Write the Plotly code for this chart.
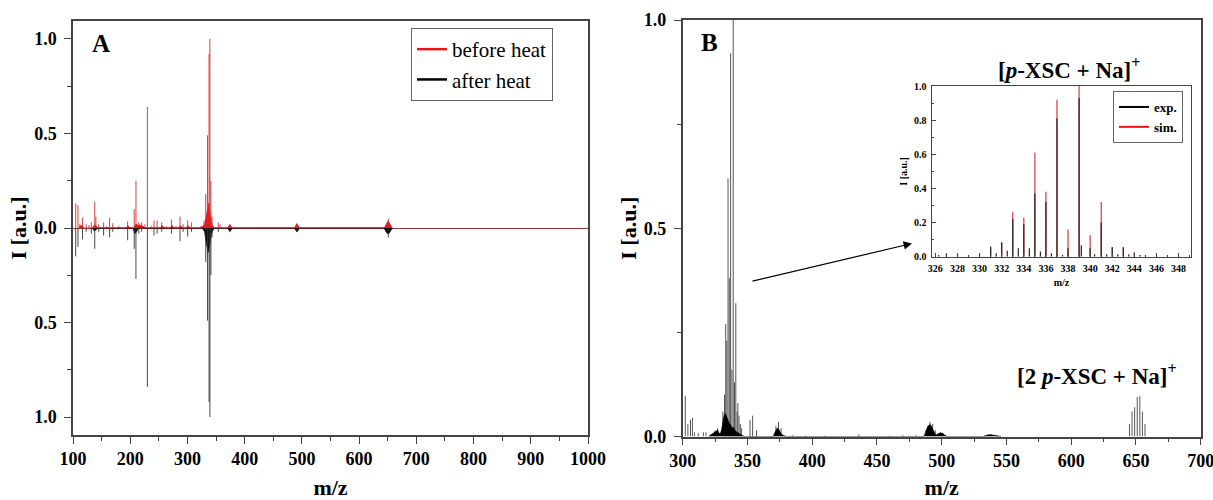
import plotly.graph_objects as go

FONT = "Liberation Serif, Times New Roman, serif"

# ---------------- Panel A : mirror plot (before heat up, after heat down) ----------------
A_before_mz = [104.7, 108.7, 112, 116.7, 123, 128, 132, 138, 140, 145, 153.5, 159, 164, 169.5,
               180, 195.5, 207, 210, 215, 220, 225.6, 230, 237, 241.6, 247, 255, 263, 272, 280,
               287, 292.4, 300.4, 307, 324, 329, 332, 335, 337.8, 339.2, 341, 343, 354, 357,
               374, 491, 651]
A_before_int = [0.13, 0.12, 0.02, 0.055, 0.02, 0.015, 0.03, 0.14, 0.06, 0.02, 0.03, 0.01, 0.055, 0.025,
                0.01, 0.035, 0.10, 0.25, 0.03, 0.03, 0.02, 0.64, 0.01, 0.04, 0.04, 0.03, 0.01, 0.045, 0.01,
                0.06, 0.02, 0.04, 0.03, 0.01, 0.04, 0.18, 0.49, 0.92, 1.00, 0.25, 0.06, 0.03, 0.02,
                0.02, 0.025, 0.05]

A_after_mz = [104.7, 108.7, 116.7, 123, 132, 138, 145, 153.5, 164, 169.5, 195.5, 207, 210, 215,
              220, 230, 241.6, 247, 255, 272, 287, 292.4, 300.4, 307, 332, 335, 337.8, 339.2, 341,
              343, 354, 374, 491, 651]
A_after_int = [0.15, 0.10, 0.06, 0.02, 0.03, 0.11, 0.02, 0.04, 0.05, 0.02, 0.065, 0.11, 0.27, 0.03,
               0.02, 0.84, 0.04, 0.03, 0.02, 0.03, 0.07, 0.02, 0.045, 0.02, 0.18, 0.49, 0.92, 1.00, 0.25,
               0.05, 0.02, 0.02, 0.02, 0.05]

# dense (unresolved) regions, read as envelopes
A_before_env_mz = [110, 113, 116, 119, 134, 137, 140, 143, 193, 196, 199, 206, 210, 214, 218, 222, 226,
                   253, 256, 259, 270, 273, 276, 285, 288, 291, 298, 301, 304, 322, 326, 330, 332, 334,
                   335, 336, 337, 338, 339, 340, 341, 342, 344, 347, 370, 372, 374, 376, 378, 487,
                   489, 491, 493, 495, 644, 647, 650, 652, 655, 658]
A_before_env_int = [0, 0.012, 0.012, 0, 0, 0.015, 0.012, 0, 0, 0.012, 0, 0, 0.02, 0.015, 0.015, 0.01, 0,
                    0, 0.012, 0, 0, 0.014, 0, 0, 0.012, 0, 0, 0.012, 0, 0, 0.008, 0.02, 0.045, 0.08,
                    0.10, 0.12, 0.13, 0.11, 0.09, 0.06, 0.04, 0.025, 0.012, 0, 0, 0.012, 0.018, 0.012, 0, 0,
                    0.015, 0.022, 0.015, 0, 0, 0.02, 0.035, 0.03, 0.015, 0]

A_after_env_mz = [134, 137, 140, 143, 205, 208, 211, 214, 326, 330, 332, 334, 335, 336, 337, 338,
                  339, 340, 342, 344, 347, 370, 372, 374, 376, 378, 487, 489, 491, 493, 495, 644,
                  647, 650, 652, 655, 658]
A_after_env_int = [0, 0.015, 0.01, 0, 0, 0.03, 0.02, 0, 0, 0.02, 0.06, 0.10, 0.12, 0.13, 0.12, 0.10,
                   0.08, 0.06, 0.03, 0.015, 0, 0, 0.012, 0.018, 0.012, 0, 0, 0.015, 0.02, 0.015, 0, 0,
                   0.02, 0.03, 0.03, 0.015, 0]

# ---------------- Panel B : full spectrum ----------------
B_mz = [302, 304, 306, 307.5, 309, 312, 316, 318, 322, 325, 327, 331, 332.3, 333.2, 334.1, 335,
        336, 337, 338, 339, 340, 341, 342, 342.6, 343.5, 344.5, 345.5, 352, 354, 357, 372, 374, 376,
        385, 395, 410, 436, 460, 470, 480, 489, 491, 493, 495, 500, 538, 645, 647, 649, 651,
        653, 655, 657]
B_int = [0.098, 0.03, 0.04, 0.045, 0.01, 0.008, 0.01, 0.01, 0.005, 0.015, 0.02, 0.06, 0.10, 0.27, 0.23,
         0.62, 0.38, 0.92, 0.16, 1.00, 0.13, 0.32, 0.06, 0.08, 0.05, 0.03, 0.02, 0.04, 0.05, 0.015,
         0.025, 0.035, 0.02, 0.003, 0.002, 0.002, 0.005, 0.002, 0.003, 0.003, 0.025, 0.035, 0.03,
         0.015, 0.008, 0.004, 0.03, 0.06, 0.07, 0.095, 0.097, 0.06, 0.03]

B_env_mz = [320, 322, 324, 326, 327, 328, 329, 330, 331, 332, 333, 334, 335, 336, 337, 338, 339, 340,
            341, 342, 343, 344, 346, 348, 370, 371, 372, 373, 374, 375, 376, 378, 380, 486, 487,
            488, 489, 490, 491, 492, 493, 494, 495, 496, 497, 498, 499, 500, 501, 502, 504, 532,
            534, 536, 538, 540, 543, 546]
B_env_int = [0, 0.004, 0.008, 0.014, 0.015, 0.008, 0.006, 0.015, 0.035, 0.05, 0.055, 0.045, 0.04, 0.03,
             0.028, 0.02, 0.022, 0.015, 0.012, 0.01, 0.008, 0.005, 0.002, 0, 0, 0.008, 0.015, 0.02,
             0.018, 0.012, 0.006, 0.002, 0, 0, 0.005, 0.015, 0.022, 0.027, 0.028, 0.025, 0.018, 0.01,
             0.005, 0.004, 0.006, 0.008, 0.009, 0.008, 0.007, 0.004, 0, 0, 0.002, 0.004, 0.004,
             0.003, 0.002, 0]

# ---------------- Inset : isotope pattern ----------------
inset_sim_mz = [331, 332, 333, 334, 335, 336, 337, 338, 339, 340, 341, 342, 343, 344]
inset_sim_int = [0.05, 0.08, 0.26, 0.23, 0.61, 0.38, 0.92, 0.16, 1.00, 0.125, 0.32, 0.055, 0.055, 0.025]

inset_exp_mz = [326.3, 327, 328, 329, 330, 331, 331.5, 332, 332.5, 333, 333.5, 334, 334.5, 335,
                335.5, 336, 336.5, 337, 337.5, 338, 339, 339.2, 340, 340.4, 341, 341.5, 342, 342.5,
                343, 343.5, 344, 344.5, 345, 346, 347, 348]
inset_exp_int = [0.01, 0.02, 0.015, 0.01, 0.01, 0.06, 0.02, 0.085, 0.035, 0.22, 0.05, 0.19, 0.05, 0.37,
                 0.03, 0.32, 0.02, 0.81, 0.01, 0.05, 0.93, 0.065, 0.05, 0.015, 0.20, 0.015, 0.055, 0.015,
                 0.055, 0.015, 0.025, 0.01, 0.01, 0.005, 0.005, 0.005]

# ---------------- ticks ----------------
A_xticks = [100, 200, 300, 400, 500, 600, 700, 800, 900, 1000]
A_xminor = [150, 250, 350, 450, 550, 650, 750, 850, 950]
A_yticks = [-1.0, -0.5, 0.0, 0.5, 1.0]
A_yticktext = ["1.0", "0.5", "0.0", "0.5", "1.0"]
A_yminor = [-0.75, -0.25, 0.25, 0.75]
B_xticks = [300, 350, 400, 450, 500, 550, 600, 650, 700]
B_xminor = [325, 375, 425, 475, 525, 575, 625, 675]
B_yticks = [0.0, 0.5, 1.0]
B_yticktext = ["0.0", "0.5", "1.0"]
B_yminor = [0.25, 0.75]
inset_xticks = [326, 328, 330, 332, 334, 336, 338, 340, 342, 344, 346, 348]
inset_xminor = [327, 329, 331, 333, 335, 337, 339, 341, 343, 345, 347, 349]
inset_yticks = [0.0, 0.2, 0.4, 0.6, 0.8, 1.0]
inset_yticktext = ["0.0", "0.2", "0.4", "0.6", "0.8", "1.0"]
inset_yminor = [0.1, 0.3, 0.5, 0.7, 0.9]


def sticks(mz, inten, sign=1.0):
    xs, ys = [], []
    for m, v in zip(mz, inten):
        xs += [m, m, None]
        ys += [0.0, sign * v, None]
    return xs, ys


RED = "#e8141a"
fig = go.Figure()

# Panel A
fig.add_trace(go.Scatter(x=A_before_env_mz, y=A_before_env_int, mode="lines", fill="tozeroy",
                         line=dict(color=RED, width=0.8), fillcolor=RED, showlegend=False,
                         hoverinfo="skip", xaxis="x", yaxis="y"))
fig.add_trace(go.Scatter(x=A_after_env_mz, y=[-v for v in A_after_env_int], mode="lines", fill="tozeroy",
                         line=dict(color="black", width=0.8), fillcolor="black", showlegend=False,
                         hoverinfo="skip", xaxis="x", yaxis="y"))
xs, ys = sticks(A_after_mz, A_after_int, -1.0)
fig.add_trace(go.Scatter(x=xs, y=ys, mode="lines", line=dict(color="#333333", width=0.9),
                         showlegend=False, name="after heat", xaxis="x", yaxis="y"))
xs, ys = sticks(A_before_mz, A_before_int, 1.0)
fig.add_trace(go.Scatter(x=xs, y=ys, mode="lines", line=dict(color="#d42a2a", width=0.9),
                         showlegend=False, name="before heat", xaxis="x", yaxis="y"))
fig.add_trace(go.Scatter(x=[None], y=[None], mode="lines", line=dict(color=RED, width=2.5),
                         name="before heat", legend="legend", xaxis="x", yaxis="y"))
fig.add_trace(go.Scatter(x=[None], y=[None], mode="lines", line=dict(color="black", width=2.5),
                         name="after heat", legend="legend", xaxis="x", yaxis="y"))

# Panel B
xs, ys = sticks(B_mz, B_int)
fig.add_trace(go.Scatter(x=xs, y=ys, mode="lines", line=dict(color="#555555", width=1.0),
                         showlegend=False, xaxis="x2", yaxis="y2"))
fig.add_trace(go.Scatter(x=B_env_mz, y=B_env_int, mode="lines", fill="tozeroy",
                         line=dict(color="black", width=0.8), fillcolor="black", showlegend=False,
                         hoverinfo="skip", xaxis="x2", yaxis="y2"))

# Inset
xs, ys = sticks(inset_sim_mz, inset_sim_int)
fig.add_trace(go.Scatter(x=xs, y=ys, mode="lines", line=dict(color="#d43a3a", width=1.2),
                         showlegend=False, xaxis="x3", yaxis="y3"))
xs, ys = sticks(inset_exp_mz, inset_exp_int)
fig.add_trace(go.Scatter(x=xs, y=ys, mode="lines", line=dict(color="#222222", width=1.2),
                         showlegend=False, xaxis="x3", yaxis="y3"))
fig.add_trace(go.Scatter(x=[None], y=[None], mode="lines", line=dict(color="black", width=2),
                         name="exp.", legend="legend2", xaxis="x3", yaxis="y3"))
fig.add_trace(go.Scatter(x=[None], y=[None], mode="lines", line=dict(color=RED, width=2),
                         name="sim.", legend="legend2", xaxis="x3", yaxis="y3"))

W, H = 1213, 500
AX = "#444444"
tickfont = dict(family=FONT, size=18, color="black", weight="bold")
titlefont = dict(family=FONT, size=22, color="black", weight="bold")
smallfont = dict(family=FONT, size=10, color="black", weight="bold")


def axis(domain, rng, tickvals, ticktext, minorvals, title, anchor, standoff, ticklen=7, minlen=4,
         ticks="outside", tfont=tickfont, ttfont=titlefont, lw=1.5, lstand=4):
    return dict(domain=domain, range=rng, anchor=anchor, showline=True, linecolor=AX, linewidth=lw,
                mirror=True, ticks=ticks, ticklen=ticklen, tickwidth=1.3, tickcolor=AX,
                tickvals=tickvals, ticktext=ticktext, showgrid=False, zeroline=False,
                tickfont=tfont, ticklabelstandoff=lstand, automargin=False,
                ticklabeloverflow="allow",
                minor=dict(tickvals=minorvals, ticks=ticks, ticklen=minlen, tickwidth=1.2,
                           tickcolor=AX, showgrid=False),
                title=dict(text=title, font=ttfont, standoff=standoff))


def label(text, x, y, size, italic_font=None):
    return dict(text=text, x=x / W, y=1 - y / H, xref="paper", yref="paper", showarrow=False,
                xanchor="center", yanchor="middle",
                font=dict(family=FONT, size=size, color="black", weight="bold"))


fig.update_layout(
    width=W, height=H, margin=dict(l=0, r=0, t=0, b=0, pad=0, autoexpand=False),
    paper_bgcolor="white", plot_bgcolor="white",
    xaxis=axis([73 / W, 588 / W], [100, 1000], A_xticks, [str(v) for v in A_xticks], A_xminor,
               "m/z", "y", 14, lstand=0),
    yaxis=axis([1 - 435 / H, 1 - 21 / H], [-1.095, 1.095], A_yticks, A_yticktext, A_yminor,
               "I [a.u.]", "x", 1, lstand=4),
    xaxis2=axis([682.7 / W, 1200.7 / W], [300, 700], B_xticks, [str(v) for v in B_xticks], B_xminor,
                "m/z", "y2", 14, lstand=0),
    yaxis2=axis([1 - 436.5 / H, 1 - 20 / H], [0, 1.0], B_yticks, B_yticktext, B_yminor,
                "I [a.u.]", "x2", 1, lstand=4),
    xaxis3=axis([931.5 / W, 1191.3 / W], [325.65, 349.15], inset_xticks,
                [str(v) for v in inset_xticks], inset_xminor, "m/z", "y3", 6, ticklen=4, minlen=2,
                ticks="inside", tfont=smallfont, ttfont=smallfont, lw=1.0, lstand=2),
    yaxis3=axis([1 - 256.7 / H, 1 - 86 / H], [0, 1.0], inset_yticks, inset_yticktext, inset_yminor,
                "I [a.u.]", "x3", 4, ticklen=4, minlen=2, ticks="inside",
                tfont=smallfont, ttfont=smallfont, lw=1.0, lstand=2),
    legend=dict(x=411 / W, y=1 - 28 / H, xanchor="left", yanchor="top", bordercolor="#666666",
                borderwidth=1, bgcolor="white", font=dict(family=FONT, size=21, color="black"),
                tracegroupgap=0, itemwidth=30),
    legend2=dict(x=1183 / W, y=1 - 91 / H, xanchor="right", yanchor="top", bordercolor="#666666",
                 borderwidth=1, bgcolor="white",
                 font=dict(family=FONT, size=13, color="black", weight="bold"),
                 tracegroupgap=0, itemwidth=30),
    annotations=[
        label("A", 101, 44, 25),
        label("B", 710, 43, 25),
        label("[<i>p</i>-XSC + Na]<sup>+</sup>", 1069, 68, 23),
        label("[2 <i>p</i>-XSC + Na]<sup>+</sup>", 1097, 374, 23),
        dict(text="", x=912 / W, y=1 - 243.5 / H, xref="paper", yref="paper", showarrow=True,
             ax=751 - 912, ay=281.5 - 243.5, arrowhead=2, arrowsize=1.4, arrowwidth=1.2,
             arrowcolor="black", standoff=0),
    ],
)
fig.update_layout(yaxis_zeroline=True, yaxis_zerolinecolor="#9a3030", yaxis_zerolinewidth=1.2)

fig.write_html("out.html")
